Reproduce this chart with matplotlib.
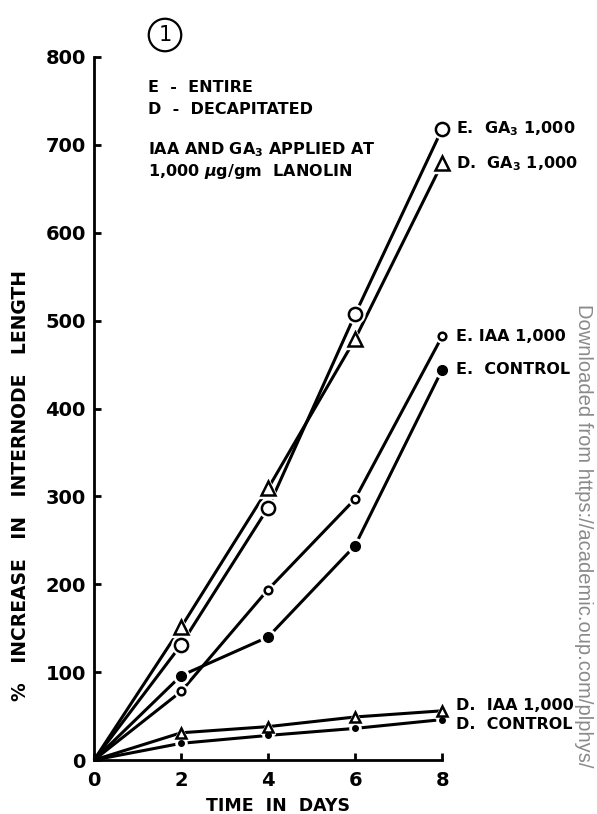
import matplotlib
matplotlib.use("Agg")
import matplotlib.pyplot as plt

days = [0, 2, 4, 6, 8]
e_ga3 = [0, 131, 287, 507, 718]
d_ga3 = [0, 151, 309, 479, 679]
e_iaa = [0, 78, 194, 297, 482]
e_control = [0, 96, 140, 244, 444]
d_iaa = [0, 31, 38, 49, 56]
d_control = [0, 19, 28, 36, 46]

series_labels = ["E.  GA$_3$ 1,000", "D.  GA$_3$ 1,000", "E. IAA 1,000",
                 "E.  CONTROL", "D.  IAA 1,000", "D.  CONTROL"]

xticks = [0, 2, 4, 6, 8]
yticks = [0, 100, 200, 300, 400, 500, 600, 700, 800]

plt.rcParams['font.family'] = ['DejaVu Sans']
plt.rcParams['font.weight'] = 'bold'

fig = plt.figure(figsize=(5.97, 8.14), dpi=100)
ax = fig.add_axes([0.1575, 0.0663, 0.583, 0.8637])

styles = [
    (e_ga3, dict(marker='o', ms=9.5, mfc='white', mec='black', mew=1.8)),
    (d_ga3, dict(marker='^', ms=10, mfc='white', mec='black', mew=1.8)),
    (e_iaa, dict(marker='o', ms=5.5, mfc='white', mec='black', mew=1.8)),
    (e_control, dict(marker='o', ms=7, mfc='black', mec='black', mew=1)),
    (d_iaa, dict(marker='^', ms=6.5, mfc='white', mec='black', mew=1.8)),
    (d_control, dict(marker='o', ms=4, mfc='black', mec='black', mew=1)),
]

for vals, st in styles:
    ax.plot(days, vals, color='black', lw=2.2, solid_capstyle='butt', zorder=2,
            clip_on=False)
    # white halo to break the line near each marker
    ax.plot(days[1:], vals[1:], ls='none', marker=st['marker'],
            ms=st['ms'] + 4, mfc='white', mec='white', zorder=3, clip_on=False)
    ax.plot(days[1:], vals[1:], ls='none', zorder=4, clip_on=False, **st)

ax.set_xlim(0, 8)
ax.set_ylim(0, 800)
ax.set_xticks(xticks)
ax.set_yticks(yticks)
ax.set_xticklabels([str(t) for t in xticks])
ax.set_yticklabels([str(t) for t in yticks])
for s in ['top', 'right']:
    ax.spines[s].set_visible(False)
for s in ['left', 'bottom']:
    ax.spines[s].set_linewidth(2.0)
ax.tick_params(direction='in', length=5, width=2, labelsize=14)
ax.tick_params(axis='x', pad=8)
ax.tick_params(axis='y', pad=6)
for lab in ax.get_xticklabels() + ax.get_yticklabels():
    lab.set_fontweight('bold')

ax.set_xlabel("TIME  IN  DAYS", fontsize=12.5, fontweight='bold', labelpad=4)
ax.xaxis.set_label_coords(0.53, -0.052)
ax.set_ylabel("%   INCREASE   IN   INTERNODE   LENGTH", fontsize=13.5,
              fontweight='bold')
ax.yaxis.set_label_coords(-0.185, 0.39)

# right-hand labels
label_y = [e_ga3[-1], d_ga3[-1], e_iaa[-1], e_control[-1], d_iaa[-1] + 6, d_control[-1] - 6]
for txt, yv in zip(series_labels, label_y):
    ax.annotate(txt, xy=(8, yv), xytext=(10, 0), textcoords='offset points',
                ha='left', va='center', fontsize=11.5, fontweight='bold',
                annotation_clip=False)

# legend-like notes
note_x = 1.25
ax.text(note_x, 765, "E  -  ENTIRE", fontsize=11.5, fontweight='bold', va='center')
ax.text(note_x, 740, "D  -  DECAPITATED", fontsize=11.5, fontweight='bold', va='center')
ax.text(note_x, 694, "IAA AND GA$_3$ APPLIED AT", fontsize=11.5, fontweight='bold', va='center')
ax.text(note_x, 670, "1,000 $\\mu$g/gm  LANOLIN", fontsize=11.5, fontweight='bold', va='center')

# figure number
fig.text(165 / 597, 1 - 35 / 814, "1", fontsize=15, ha='center', va='center',
         fontweight='normal',
         bbox=dict(boxstyle='circle,pad=0.3', fc='white', ec='black', lw=1.6))

# watermark
fig.text(583 / 597, 1 - 304 / 814,
         "Downloaded from https://academic.oup.com/plphys/",
         rotation=-90, ha='center', va='top', fontsize=14.5, color='#8a8a8a',
         family='Liberation Sans', fontweight='normal')

fig.savefig("out.png", dpi=100)
